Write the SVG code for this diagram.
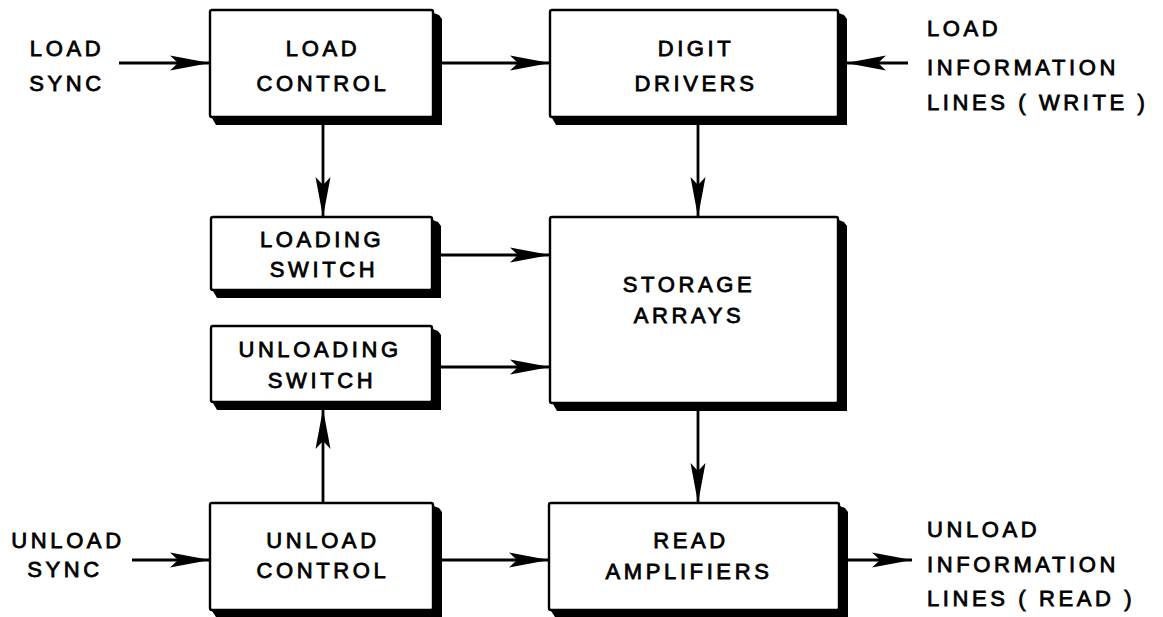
<svg xmlns="http://www.w3.org/2000/svg" width="1163" height="617" viewBox="0 0 1163 617">
<style>
  text { font-family: "Liberation Sans", Arial, sans-serif; font-size: 22px; letter-spacing: 3.6px; fill: #000; stroke: #000; stroke-width: 0.8px; }
  .c { text-anchor: middle; }
  .box { fill: #fff; stroke: #000; stroke-width: 2.4; }
  .sh { fill: #000; }
  .ln { stroke: #000; stroke-width: 2.8; fill: none; marker-end: url(#ah); }
</style>
<defs>
  <marker id="ah" markerUnits="userSpaceOnUse" viewBox="-42 -9 44 18" refX="0" refY="0" markerWidth="44" markerHeight="18" orient="auto">
    <path d="M0,0 L-40,-7.5 L-32,0 L-40,7.5 Z" fill="#000"/>
  </marker>
</defs>
<rect width="1163" height="617" fill="#fff"/>

<g id="connectors">
  <line class="ln" x1="119" y1="63" x2="210" y2="63"/>
  <line class="ln" x1="441" y1="63" x2="550" y2="63"/>
  <line class="ln" x1="908" y1="63" x2="846" y2="63"/>
  <line class="ln" x1="323" y1="124" x2="323" y2="217"/>
  <line class="ln" x1="698" y1="124" x2="698" y2="217"/>
  <line class="ln" x1="440" y1="255" x2="550" y2="255"/>
  <line class="ln" x1="440" y1="367" x2="550" y2="367"/>
  <line class="ln" x1="323" y1="503" x2="323" y2="409"/>
  <line class="ln" x1="698" y1="410" x2="698" y2="503"/>
  <line class="ln" x1="132" y1="560" x2="210" y2="560"/>
  <line class="ln" x1="442" y1="560" x2="549" y2="560"/>
  <line class="ln" x1="847" y1="560" x2="912" y2="560"/>
</g>

<g id="load-control">
  <path class="sh" d="M431,12 L439,15 L442,19 L442,125 L216,125 L212,118 Z"/>
  <rect class="box" x="210" y="10" width="223" height="107" rx="2"/>
  <text class="c" x="323" y="56">LOAD</text>
  <text class="c" x="323" y="91">CONTROL</text>
</g>

<g id="digit-drivers">
  <path class="sh" d="M836,12 L844,15 L847,19 L847,125 L556,125 L552,118 Z"/>
  <rect class="box" x="550" y="10" width="288" height="107" rx="2"/>
  <text class="c" x="696" y="56">DIGIT</text>
  <text class="c" x="696" y="91">DRIVERS</text>
</g>

<g id="loading-switch">
  <path class="sh" d="M430,219 L438,222 L441,226 L441,298 L217,298 L213,291 Z"/>
  <rect class="box" x="211" y="217" width="221" height="73" rx="2"/>
  <text class="c" x="322" y="247">LOADING</text>
  <text class="c" x="324" y="277">SWITCH</text>
</g>

<g id="unloading-switch">
  <path class="sh" d="M430,328 L438,331 L441,335 L441,410 L217,410 L213,403 Z"/>
  <rect class="box" x="211" y="326" width="221" height="76" rx="2"/>
  <text class="c" x="320" y="357">UNLOADING</text>
  <text class="c" x="322" y="388">SWITCH</text>
</g>

<g id="storage-arrays">
  <path class="sh" d="M836,219 L844,222 L847,226 L847,411 L557,411 L553,404 Z"/>
  <rect class="box" x="550" y="217" width="288" height="186" rx="2"/>
  <text class="c" x="689" y="292">STORAGE</text>
  <text class="c" x="689" y="323">ARRAYS</text>
</g>

<g id="unload-control">
  <path class="sh" d="M431,505 L439,508 L442,512 L442,617 L216,617 L212,611 Z"/>
  <rect class="box" x="210" y="503" width="223" height="107" rx="2"/>
  <text class="c" x="323" y="548">UNLOAD</text>
  <text class="c" x="323" y="578">CONTROL</text>
</g>

<g id="read-amplifiers">
  <path class="sh" d="M837,505 L845,508 L848,512 L848,617 L555,617 L551,611 Z"/>
  <rect class="box" x="549" y="503" width="290" height="107" rx="2"/>
  <text class="c" x="691" y="548">READ</text>
  <text class="c" x="689" y="579">AMPLIFIERS</text>
</g>

<g id="load-sync-label">
  <text class="c" x="67" y="56">LOAD</text>
  <text class="c" x="67" y="91">SYNC</text>
</g>
<g id="unload-sync-label">
  <text class="c" x="68" y="548">UNLOAD</text>
  <text class="c" x="65" y="577">SYNC</text>
</g>
<g id="load-info-label">
  <text x="927" y="36">LOAD</text>
  <text x="927" y="75">INFORMATION</text>
  <text x="927" y="110">LINES ( WRITE )</text>
</g>
<g id="unload-info-label">
  <text x="927" y="537">UNLOAD</text>
  <text x="927" y="572">INFORMATION</text>
  <text x="927" y="606">LINES ( READ )</text>
</g>
</svg>
